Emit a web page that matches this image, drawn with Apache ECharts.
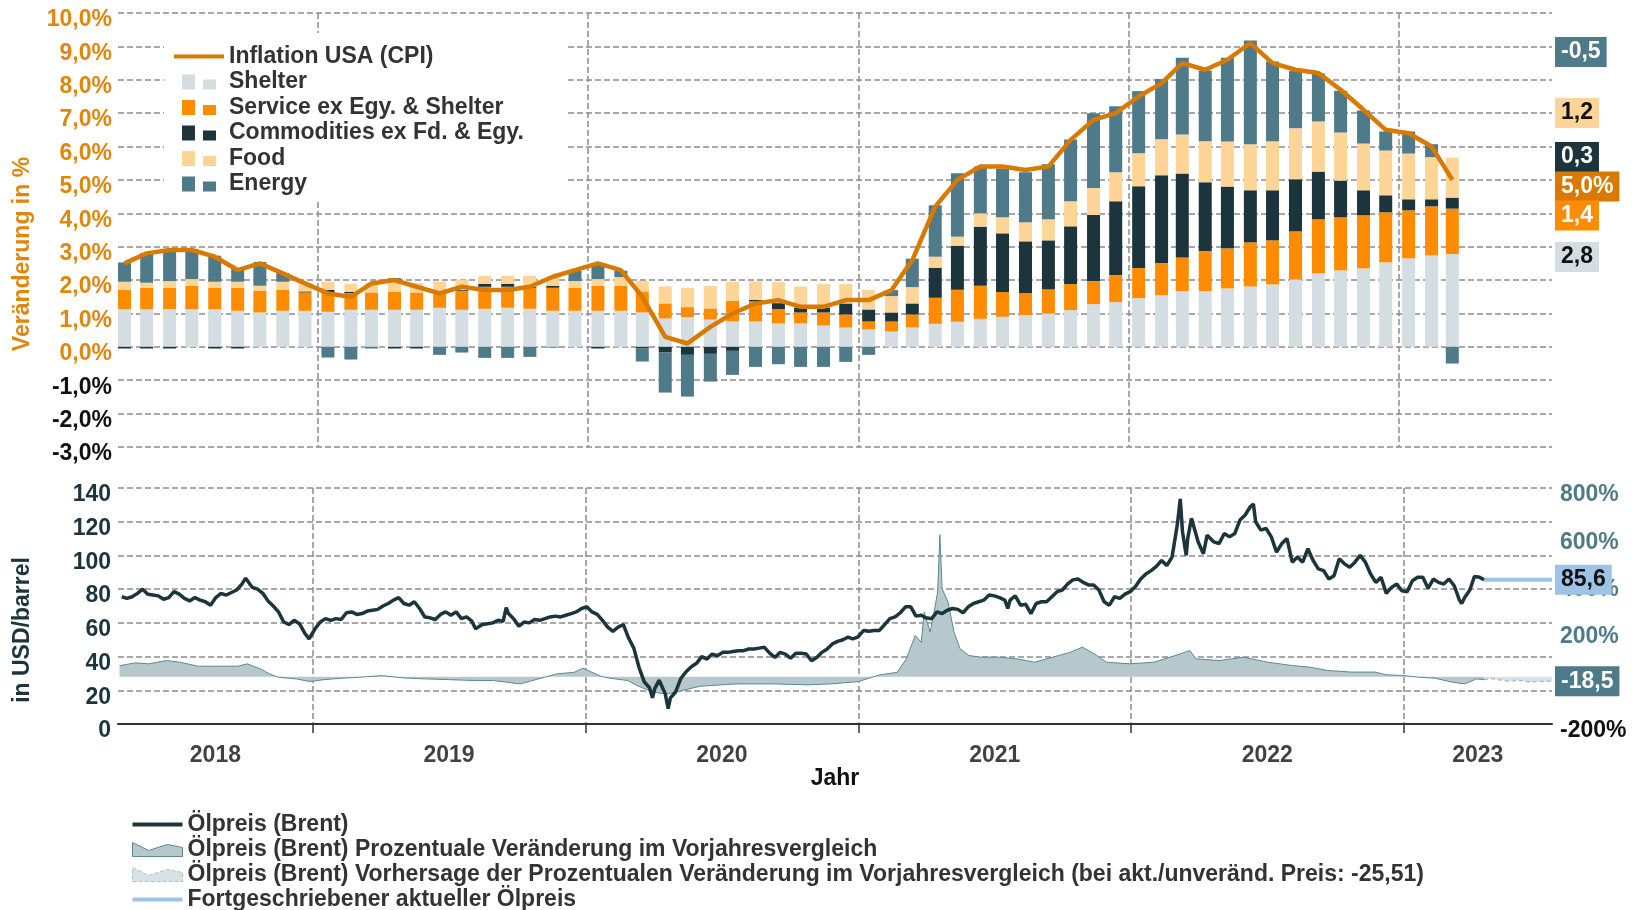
<!DOCTYPE html>
<html>
<head>
<meta charset="utf-8">
<title>Inflation USA und Ölpreis</title>
<script src="https://cdn.jsdelivr.net/npm/echarts@6/dist/echarts.min.js"></script>
<style>
  html, body { margin: 0; padding: 0; background: #fff; }
  #chart { width: 1640px; height: 910px; }
</style>
</head>
<body>
<div id="chart"></div>
<script>
// ---- monthly CPI data, Apr 2018 .. Mar 2023 (contributions in %-points)
var firstMonth = [2018, 4];
var cpi = [2.5,2.8,2.9,2.9,2.7,2.3,2.5,2.2,1.9,
  1.6,1.5,1.9,2.0,1.8,1.6,1.8,1.7,1.7,1.8,2.1,2.3,
  2.5,2.3,1.5,0.3,0.1,0.6,1.0,1.3,1.4,1.2,1.2,1.4,
  1.4,1.7,2.6,4.2,5.0,5.4,5.4,5.3,5.4,6.2,6.8,7.0,
  7.5,7.9,8.5,8.3,8.6,9.1,8.5,8.3,8.2,7.7,7.1,6.5,
  6.4,6.0,5.0];
var shelter = [1.13,1.13,1.13,1.13,1.13,1.08,1.03,1.08,1.08,
  1.05,1.11,1.11,1.11,1.11,1.17,1.11,1.14,1.17,1.14,1.08,1.08,
  1.08,1.08,1.03,0.85,0.89,0.82,0.76,0.76,0.70,0.70,0.64,0.58,
  0.52,0.46,0.58,0.69,0.75,0.84,0.90,0.95,1.00,1.10,1.28,1.34,
  1.46,1.55,1.67,1.67,1.75,1.81,1.87,2.02,2.20,2.29,2.35,2.53,
  2.65,2.74,2.78];
var service = [0.58,0.64,0.64,0.70,0.64,0.69,0.65,0.63,0.55,
  0.58,0.50,0.52,0.54,0.52,0.51,0.57,0.66,0.63,0.63,0.69,0.69,
  0.75,0.75,0.63,0.45,0.30,0.33,0.62,0.60,0.43,0.33,0.39,0.39,
  0.24,0.30,0.39,0.78,0.96,0.99,0.74,0.66,0.72,0.78,0.69,0.81,
  0.90,0.96,1.01,1.20,1.20,1.32,1.32,1.44,1.62,1.59,1.59,1.50,
  1.44,1.47,1.36];
var commodities = [-0.05,-0.05,-0.05,0,-0.05,-0.05,0,0,0.03,
  0.08,0.04,0,-0.05,-0.05,0,0.03,0.09,0.09,0.03,0.06,0,
  -0.05,0,-0.05,-0.17,-0.24,-0.21,-0.12,0.05,0.18,0.15,0.15,0.33,
  0.36,0.27,0.33,0.90,1.32,1.77,1.76,1.55,1.47,1.73,1.98,2.21,
  2.45,2.63,2.51,2.06,1.85,1.56,1.50,1.56,1.43,1.10,0.75,0.51,
  0.33,0.21,0.33];
var food = [0.24,0.15,0.20,0.20,0.18,0.18,0.15,0.24,0.25,
  0.24,0.24,0.28,0.30,0.28,0.27,0.30,0.24,0.24,0.33,0.28,0.20,
  0.20,0.26,0.31,0.51,0.58,0.67,0.57,0.55,0.63,0.63,0.70,0.58,
  0.58,0.49,0.49,0.33,0.27,0.40,0.48,0.57,0.63,0.75,0.81,0.87,
  0.99,1.08,1.17,1.23,1.35,1.38,1.47,1.53,1.50,1.44,1.40,1.34,
  1.37,1.26,1.20];
var energy = [0.58,0.89,0.88,0.90,0.78,0.39,0.71,0.26,0,
  -0.32,-0.38,-0.05,0.11,0,-0.24,-0.17,-0.33,-0.33,-0.30,-0.02,0.31,
  0.45,0.19,-0.39,-1.20,-1.25,-0.83,-0.72,-0.60,-0.52,-0.60,-0.60,-0.45,
  -0.24,0.18,0.85,1.54,1.90,1.40,1.46,1.50,1.65,1.85,2.24,1.98,
  1.86,1.80,2.30,2.12,2.51,3.11,2.39,1.71,1.44,1.25,0.99,0.57,
  0.66,0.39,-0.50];

// ---- Brent spot price (USD/barrel)
var brentDates = [
  '2018-04-20','2018-04-27','2018-05-04','2018-05-11','2018-05-18','2018-05-25','2018-06-01','2018-06-08','2018-06-15','2018-06-22','2018-06-29',
  '2018-07-06','2018-07-13','2018-07-20','2018-07-27','2018-08-03','2018-08-10','2018-08-17','2018-08-24','2018-08-31','2018-09-07','2018-09-14',
  '2018-09-21','2018-09-28','2018-10-03','2018-10-12','2018-10-19','2018-10-26','2018-11-02','2018-11-09','2018-11-16','2018-11-23','2018-11-30',
  '2018-12-07','2018-12-14','2018-12-21','2018-12-27',
  '2019-01-04','2019-01-11','2019-01-18','2019-01-25','2019-02-01','2019-02-08','2019-02-15','2019-02-22','2019-03-01','2019-03-08','2019-03-15',
  '2019-03-22','2019-03-29','2019-04-05','2019-04-12','2019-04-19','2019-04-26','2019-05-03','2019-05-10','2019-05-17','2019-05-24','2019-05-31',
  '2019-06-07','2019-06-14','2019-06-21','2019-06-28','2019-07-05','2019-07-12','2019-07-19','2019-07-26','2019-08-02','2019-08-07','2019-08-16',
  '2019-08-23','2019-08-30','2019-09-06','2019-09-13','2019-09-17','2019-09-20','2019-09-27','2019-10-04','2019-10-11','2019-10-18','2019-10-25',
  '2019-11-01','2019-11-08','2019-11-15','2019-11-22','2019-11-29','2019-12-06','2019-12-13','2019-12-20','2019-12-27',
  '2020-01-03','2020-01-10','2020-01-17','2020-01-24','2020-01-31','2020-02-07','2020-02-14','2020-02-21','2020-02-28','2020-03-06','2020-03-13',
  '2020-03-20','2020-03-27','2020-03-31','2020-04-03','2020-04-09','2020-04-17','2020-04-21','2020-04-24','2020-05-01','2020-05-08','2020-05-15',
  '2020-05-22','2020-05-29','2020-06-05','2020-06-12','2020-06-19','2020-06-26','2020-07-03','2020-07-10','2020-07-17','2020-07-24','2020-07-31',
  '2020-08-07','2020-08-14','2020-08-21','2020-08-28','2020-09-04','2020-09-11','2020-09-18','2020-09-25','2020-10-02','2020-10-09','2020-10-16',
  '2020-10-23','2020-10-30','2020-11-06','2020-11-13','2020-11-20','2020-11-27','2020-12-04','2020-12-11','2020-12-18','2020-12-24','2020-12-31',
  '2021-01-08','2021-01-15','2021-01-22','2021-01-29','2021-02-05','2021-02-12','2021-02-19','2021-02-26','2021-03-05','2021-03-12','2021-03-19',
  '2021-03-26','2021-04-01','2021-04-09','2021-04-16','2021-04-23','2021-04-30','2021-05-07','2021-05-14','2021-05-21','2021-05-28','2021-06-04',
  '2021-06-11','2021-06-18','2021-06-25','2021-07-02','2021-07-09','2021-07-16','2021-07-20','2021-07-23','2021-07-30','2021-08-06','2021-08-13',
  '2021-08-20','2021-08-27','2021-09-03','2021-09-10','2021-09-17','2021-09-24','2021-10-01','2021-10-08','2021-10-15','2021-10-22','2021-10-29',
  '2021-11-05','2021-11-12','2021-11-19','2021-11-26','2021-12-03','2021-12-10','2021-12-17','2021-12-24','2021-12-31',
  '2022-01-07','2022-01-14','2022-01-21','2022-01-28','2022-02-04','2022-02-11','2022-02-18','2022-02-25','2022-03-04','2022-03-08','2022-03-11',
  '2022-03-16','2022-03-18','2022-03-23','2022-03-25','2022-04-01','2022-04-08','2022-04-13','2022-04-22','2022-04-29','2022-05-06','2022-05-13',
  '2022-05-20','2022-05-27','2022-06-03','2022-06-10','2022-06-14','2022-06-17','2022-06-24','2022-07-01','2022-07-08','2022-07-15','2022-07-22',
  '2022-07-29','2022-08-05','2022-08-12','2022-08-19','2022-08-26','2022-09-02','2022-09-09','2022-09-16','2022-09-23','2022-09-30','2022-10-07',
  '2022-10-14','2022-10-21','2022-10-28','2022-11-04','2022-11-11','2022-11-18','2022-11-25','2022-12-02','2022-12-09','2022-12-16','2022-12-23',
  '2022-12-30',
  '2023-01-06','2023-01-13','2023-01-20','2023-01-27','2023-02-03','2023-02-10','2023-02-17','2023-02-24','2023-03-03','2023-03-10','2023-03-17',
  '2023-03-20','2023-03-24','2023-03-31','2023-04-06','2023-04-13','2023-04-19'];
var brentPrice = [
  75.5,74.5,75.5,77.5,80.0,77.0,76.5,76.0,74.0,75.0,78.5,
  77.0,74.5,73.0,75.0,73.5,72.5,70.5,75.0,77.5,76.5,78.0,
  79.5,83.0,86.5,81.0,80.0,77.5,73.0,70.0,66.5,60.5,59.0,
  61.5,59.5,54.0,50.5,
  56.5,60.5,62.5,61.5,62.5,62.0,66.0,66.5,65.0,65.5,67.0,
  67.5,68.0,70.0,71.5,73.5,75.0,71.5,70.5,72.5,68.5,63.5,
  63.0,62.0,65.0,66.5,64.5,66.5,62.5,63.5,61.0,56.5,59.0,
  59.5,60.0,61.5,61.0,69.0,65.5,62.5,58.0,60.5,60.0,62.0,
  61.5,62.5,63.5,64.0,63.5,64.5,65.5,66.5,68.5,
  69.5,66.5,65.0,61.5,57.5,55.0,57.5,59.0,51.0,45.0,33.5,
  25.0,21.5,15.5,21.0,26.0,18.0,9.1,15.5,19.0,27.0,31.0,
  34.0,36.0,40.0,38.5,41.5,40.5,42.5,42.5,43.0,43.5,43.5,
  44.5,44.5,45.0,45.5,42.0,39.5,42.5,41.5,39.0,42.0,42.0,
  41.5,37.5,39.5,42.5,44.5,47.5,49.0,50.0,51.5,50.5,51.5,
  55.5,55.0,55.5,55.5,59.0,62.5,63.5,66.0,69.5,69.5,64.0,
  64.5,63.0,62.5,66.5,65.5,67.5,68.5,68.0,66.0,69.5,71.5,
  72.5,73.5,76.5,76.0,75.0,73.5,68.5,73.5,76.0,70.5,71.0,
  65.5,71.5,72.5,72.5,75.5,78.5,79.5,83.0,85.5,86.0,84.0,
  82.5,82.5,79.5,72.5,70.5,75.5,74.5,77.0,78.5,
  81.5,86.0,89.0,91.0,93.5,97.0,94.0,99.0,118.0,133.5,114.0,
  100.0,110.0,122.0,121.0,108.0,101.0,112.0,108.0,107.0,113.0,111.0,
  113.0,121.0,124.0,129.0,130.5,120.0,115.0,116.0,111.0,102.0,107.0,
  110.0,96.0,99.0,96.0,104.0,97.0,92.0,91.0,86.0,88.0,98.0,
  95.0,93.0,96.0,100.0,96.0,89.0,84.0,87.0,77.5,81.0,83.0,
  79.0,
  78.5,85.0,87.0,87.0,80.5,86.0,84.0,83.0,86.0,82.0,73.5,
  71.5,75.0,79.5,87.5,87.0,85.6];

// ---- Brent change vs. previous year (%)
var yoyDates = ['2018-04-17','2018-05-08','2018-05-26','2018-06-19','2018-07-07','2018-07-31','2018-08-24','2018-09-23','2018-10-05',
  '2018-10-23','2018-11-04','2018-11-16','2018-12-10','2018-12-28','2019-01-16','2019-02-09','2019-03-04','2019-04-03','2019-05-03',
  '2019-06-02','2019-07-02','2019-08-07','2019-08-31','2019-10-06','2019-10-30','2019-11-23','2019-12-17','2019-12-29','2020-01-10',
  '2020-01-22','2020-02-03','2020-02-27','2020-03-10','2020-03-21','2020-04-02','2020-04-20','2020-05-08','2020-06-03','2020-07-21',
  '2020-09-07','2020-10-25','2020-11-26','2021-01-01','2021-01-29','2021-02-22','2021-03-06','2021-03-18','2021-03-26','2021-03-30',
  '2021-04-07','2021-04-11','2021-04-17','2021-04-20','2021-04-23','2021-05-01','2021-05-09','2021-05-17','2021-05-29','2021-06-14',
  '2021-07-08','2021-08-01','2021-08-25','2021-09-18','2021-10-12','2021-10-28','2021-11-13','2021-11-29','2021-12-31','2022-02-01',
  '2022-03-01','2022-03-21','2022-03-29','2022-04-30','2022-06-01','2022-07-03','2022-08-04','2022-08-28','2022-09-21','2022-10-23',
  '2022-11-24','2022-12-10','2022-12-30','2023-01-19','2023-02-12','2023-03-08','2023-03-24','2023-04-09','2023-04-19'];
var yoyChange = [47,59,55,69,62,45,45,45,55,
  33,12,-2,-9,-20,-12,-6,-2,5,-5,
  -9,-12,-16,-16,-30,-9,12,19,36,19,
  2,-6,-16,-37,-51,-66,-73,-59,-40,-30,
  -30,-34,-30,-20,8,19,76,175,146,274,
  189,253,359,602,373,316,189,119,90,83,
  83,76,62,83,104,126,97,62,55,62,
  90,111,76,69,83,62,48,41,27,20,
  20,8,6,-1,-6,-23,-30,-9,-12];

// ---- forecast of the change at unchanged price (%)
var forecastDates = ['2023-04-19','2023-04-28','2023-05-10','2023-05-22','2023-06-05','2023-06-20','2023-07-05','2023-07-19'];
var forecastChange = [-12,-8,-13,-19,-15,-22,-20,-18.5];

var yearLabels = ['2018','2019','2020','2021','2022','2023'];

var ORANGE_TXT = '#E0860B', CPI_C = '#D97A00', SHELTER_C = '#D3DDE2', SERVICE_C = '#FF8C00',
    COMM_C = '#1C353D', FOOD_C = '#FED497', ENERGY_C = '#4E7A8A', BLUE_C = '#9DC3E6';
var FONT = "'Liberation Sans', Arial, sans-serif";
var xMin = '2018-04-15', xMax = forecastDates[forecastDates.length - 1];

function pad(n) { return n < 10 ? '0' + n : '' + n; }
var months = [];
for (var i = 0; i < cpi.length; i++) {
  var m = firstMonth[1] - 1 + i;
  months.push((firstMonth[0] + Math.floor(m / 12)) + '-' + pad(m % 12 + 1) + '-15');
}
function pairs(xs, ys) { return xs.map(function (d, i) { return [d, ys[i]]; }); }
function de(v, d) { return v.toFixed(d).replace('.', ','); }

var gridLine = { show: true, showMinLine: false, showMaxLine: false,
  lineStyle: { color: '#8c8c8c', width: 1.5, type: [6, 3] } };
var hGridLine = { show: true, lineStyle: { color: '#8c8c8c', width: 1.5, type: [6, 3] } };

// mid points of the visible part of each year, for the year labels
function ts(s) { var p = s.split('-'); return new Date(+p[0], +p[1] - 1, +p[2]).getTime(); }
var yearPoints = yearLabels.map(function (y) {
  var a = Math.max(new Date(+y, 0, 1).getTime(), ts(xMin));
  var b = Math.min(new Date(+y + 1, 0, 1).getTime(), ts(xMax));
  return [(a + b) / 2, 0, y];
});
var yearStarts = yearLabels.slice(1).map(function (y) { return new Date(+y, 0, 1).getTime(); });

function barSeries(name, color, vals) {
  return { name: name, type: 'bar', xAxisIndex: 0, yAxisIndex: 0, stack: 'cpi', barWidth: 13,
    color: color, data: pairs(months, vals) };
}

var twoSq = 'path://M0,0h13v15h-13z M21,5h13v10h-13z';
var lineIcon = 'path://M0,0h48v4h-48z';
var areaIcon = 'path://M0,1L16,9L35,3L50,6V15H0Z';

var nameYoy = 'Ölpreis (Brent) Prozentuale Veränderung im Vorjahresvergleich';
var nameFc = 'Ölpreis (Brent) Vorhersage der Prozentualen Veränderung im Vorjahresvergleich (bei akt./unveränd. Preis: -25,51)';

var legendText = { fontFamily: FONT, fontWeight: 'bold', fontSize: 23, lineHeight: 23, color: '#333' };
// tick labels sit a little below their grid line, as in the original
var yLabel = { fontFamily: FONT, fontWeight: 'bold', fontSize: 23, verticalAlign: 'top', lineHeight: 14 };

var chart = echarts.init(document.getElementById('chart'));
var option = {
  animation: false,
  textStyle: { fontFamily: FONT, fontWeight: 'bold' },
  grid: [
    { left: 118, right: 88, top: 13, height: 434 },
    { left: 118, right: 88, top: 488, height: 236 }
  ],
  legend: [{
    orient: 'vertical', left: 164, top: 33, padding: [12, 43, 4, 10],
    backgroundColor: '#fff', itemWidth: 50, itemHeight: 15, itemGap: 2.5,
    textStyle: legendText,
    data: [
      { name: 'Inflation USA (CPI)', icon: lineIcon, itemStyle: { borderWidth: 0 } },
      { name: 'Shelter', icon: twoSq, itemStyle: { borderWidth: 0 } },
      { name: 'Service ex Egy. & Shelter', icon: twoSq, itemStyle: { borderWidth: 0 } },
      { name: 'Commodities ex Fd. & Egy.', icon: twoSq, itemStyle: { borderWidth: 0 } },
      { name: 'Food', icon: twoSq, itemStyle: { borderWidth: 0 } },
      { name: 'Energy', icon: twoSq, itemStyle: { borderWidth: 0 } }
    ]
  }, {
    orient: 'vertical', left: 132, top: 813, padding: 0, height: 100,
    itemWidth: 50, itemHeight: 15, itemGap: 2,
    textStyle: legendText,
    data: [
      { name: 'Ölpreis (Brent)', icon: lineIcon, itemStyle: { borderWidth: 0 } },
      { name: nameYoy, icon: areaIcon, itemStyle: { color: '#B7C8CD', borderColor: '#5B8796', borderWidth: 1 } },
      { name: nameFc, icon: areaIcon, itemStyle: { color: '#D7E2E5', borderColor: '#A9BFC6', borderWidth: 1, borderType: 'dashed' } },
      { name: 'Fortgeschriebener aktueller Ölpreis', icon: lineIcon, itemStyle: { borderWidth: 0 } }
    ]
  }],
  xAxis: [{
    type: 'time', gridIndex: 0, min: xMin, max: xMax, splitNumber: 5,
    axisLine: { show: false }, axisTick: { show: false }, axisLabel: { show: false },
    splitLine: gridLine
  }, {
    type: 'time', gridIndex: 1, min: xMin, max: xMax, splitNumber: 5,
    axisLine: { show: true, onZero: false, lineStyle: { color: '#333', width: 2 } },
    axisTick: { show: true, length: 9, customValues: yearStarts, lineStyle: { color: '#333', width: 1.5 } },
    axisLabel: { show: false },
    splitLine: gridLine,
    name: 'Jahr', nameLocation: 'middle', nameGap: 43,
    nameTextStyle: { fontFamily: FONT, fontWeight: 'bold', fontSize: 23, color: '#111' }
  }],
  yAxis: [{
    type: 'value', gridIndex: 0, min: -3, max: 10, interval: 1,
    axisLine: { show: false }, axisTick: { show: false },
    axisLabel: Object.assign({ margin: 6,
      formatter: function (v) { return de(v, 1) + '%'; },
      color: function (v) { return v < 0 ? '#111' : ORANGE_TXT; } }, yLabel),
    splitLine: hGridLine,
    name: 'Veränderung in %', nameLocation: 'middle', nameRotate: 90, nameGap: 84,
    nameTextStyle: { fontFamily: FONT, fontWeight: 'bold', fontSize: 23, color: ORANGE_TXT, padding: [0, 48, 0, 0] }
  }, {
    type: 'value', gridIndex: 1, min: 0, max: 140, interval: 20,
    axisLine: { show: false }, axisTick: { show: false },
    axisLabel: Object.assign({ margin: 7, color: COMM_C }, yLabel),
    splitLine: hGridLine,
    name: 'in USD/barrel', nameLocation: 'middle', nameRotate: 90, nameGap: 84,
    nameTextStyle: { fontFamily: FONT, fontWeight: 'bold', fontSize: 23, color: COMM_C, padding: [0, 48, 0, 0] }
  }, {
    type: 'value', gridIndex: 1, position: 'right', min: -200, max: 800, interval: 200,
    axisLine: { show: false }, axisTick: { show: false }, splitLine: { show: false },
    axisLabel: Object.assign({ margin: 8,
      formatter: function (v) { return v + '%'; },
      color: function (v) { return v < 0 ? '#111' : ENERGY_C; } }, yLabel)
  }],
  series: [
    barSeries('Shelter', SHELTER_C, shelter),
    barSeries('Service ex Egy. & Shelter', SERVICE_C, service),
    barSeries('Commodities ex Fd. & Egy.', COMM_C, commodities),
    barSeries('Food', FOOD_C, food),
    barSeries('Energy', ENERGY_C, energy),
    { name: 'Inflation USA (CPI)', type: 'line', xAxisIndex: 0, yAxisIndex: 0, color: CPI_C,
      symbol: 'none', lineStyle: { width: 4.5, color: CPI_C }, z: 5, data: pairs(months, cpi) },

    { name: nameYoy, type: 'line', xAxisIndex: 1, yAxisIndex: 2, color: '#5B8796', symbol: 'none',
      lineStyle: { width: 1, color: '#5B8796' }, areaStyle: { color: '#B7C8CD', opacity: 1 },
      data: pairs(yoyDates, yoyChange) },
    { name: nameFc, type: 'line', xAxisIndex: 1, yAxisIndex: 2, color: '#A9BFC6', symbol: 'none',
      lineStyle: { width: 1.2, color: '#9FB8C0', type: [4, 3] }, areaStyle: { color: '#D7E2E5', opacity: 1 },
      data: pairs(forecastDates, forecastChange) },
    { name: 'Ölpreis (Brent)', type: 'line', xAxisIndex: 1, yAxisIndex: 1, color: COMM_C, symbol: 'none',
      lineStyle: { width: 3.5, color: COMM_C }, z: 4, data: pairs(brentDates, brentPrice) },
    { name: 'Fortgeschriebener aktueller Ölpreis', type: 'line', xAxisIndex: 1, yAxisIndex: 1, color: BLUE_C,
      symbol: 'none', lineStyle: { width: 4, color: BLUE_C }, z: 3,
      data: [[brentDates[brentDates.length - 1], brentPrice[brentPrice.length - 1]],
             [xMax, brentPrice[brentPrice.length - 1]]] },
    { type: 'scatter', xAxisIndex: 1, yAxisIndex: 1, symbolSize: 0, clip: false, silent: true,
      data: yearPoints,
      label: { show: true, position: 'bottom', distance: 20, color: '#111',
        fontFamily: FONT, fontWeight: 'bold', fontSize: 23,
        formatter: function (p) { return p.value[2]; } } }
  ]
};
chart.setOption(option);

// value boxes at the right edge
function box(text, y, bg, fg) {
  return { type: 'text', x: 1555, y: y, z: 100,
    style: { text: text, fill: fg, backgroundColor: bg, padding: [4, 6, 3, 6],
      fontFamily: FONT, fontWeight: 'bold', fontSize: 23, verticalAlign: 'middle', align: 'left' } };
}
var L = cpi.length - 1;
var priceY = chart.convertToPixel({ yAxisIndex: 1 }, brentPrice[brentPrice.length - 1]);
var fcY = chart.convertToPixel({ yAxisIndex: 2 }, forecastChange[forecastChange.length - 1]);
chart.setOption({
  graphic: [
    box(de(energy[L], 1), 52, ENERGY_C, '#fff'),
    box(de(food[L], 1), 113, FOOD_C, '#111'),
    box(de(commodities[L], 1), 157, COMM_C, '#fff'),
    box(de(cpi[L], 1) + '%', 186.5, CPI_C, '#fff'),
    box(de(service[L], 1), 215.5, SERVICE_C, '#fff'),
    box(de(shelter[L], 1), 257, SHELTER_C, '#111'),
    box(de(brentPrice[brentPrice.length - 1], 1), priceY, BLUE_C, '#111'),
    box(de(forecastChange[forecastChange.length - 1], 1), fcY, ENERGY_C, '#fff')
  ]
});
</script>
</body>
</html>
